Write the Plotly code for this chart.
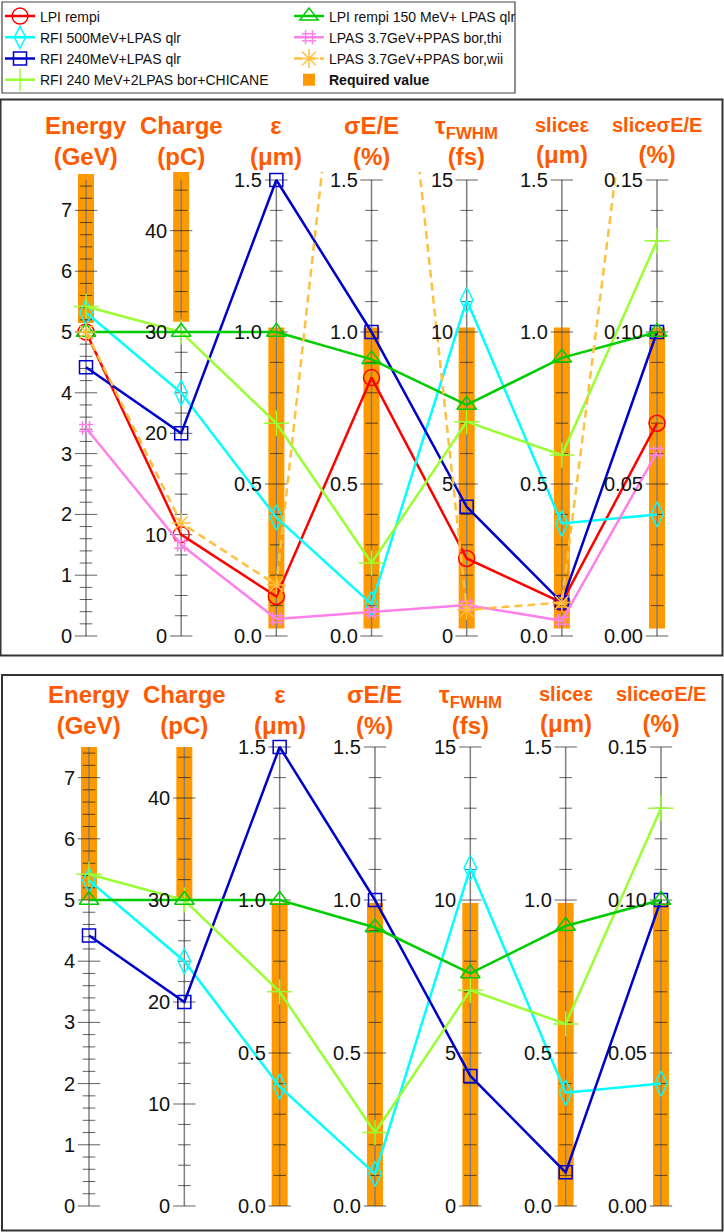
import plotly.graph_objects as go

W, H = 724, 1232

# ---------------- data ----------------
axis_titles = [
    "<b>Energy<br>(GeV)</b>",
    "<b>Charge<br>(pC)</b>",
    "<b>ε<br>(μm)</b>",
    "<b>σE/E<br>(%)</b>",
    "<b>τ<sub>FWHM</sub><br>(fs)</b>",
    "<b><span style='font-size:20px'>sliceε</span><br>(μm)</b>",
    "<b><span style='font-size:20px'>sliceσE/E</span><br>(%)</b>",
]
axis_max = [7.5, 45, 1.5, 1.5, 15, 1.5, 0.15]
minor_step = [0.2, 2, 0.1, 0.1, 1, 0.1, 0.01]
major_step = [1, 10, 0.5, 0.5, 5, 0.5, 0.05]
tick_labels = [
    ["0", "1", "2", "3", "4", "5", "6", "7"],
    ["0", "10", "20", "30", "40"],
    ["0.0", "0.5", "1.0", "1.5"],
    ["0.0", "0.5", "1.0", "1.5"],
    ["0", "5", "10", "15"],
    ["0.0", "0.5", "1.0", "1.5"],
    ["0.00", "0.05", "0.10", "0.15"],
]

lpi_rempi = [5.0, 10.0, 0.13, 0.85, 2.55, 0.11, 0.070]
rfi500_qlr = [5.32, 24.0, 0.39, 0.105, 11.05, 0.37, 0.040]
rfi240_qlr = [4.42, 20.0, 1.5, 1.0, 4.25, 0.11, 0.100]
rfi240_chicane = [5.42, 30.0, 0.70, 0.24, 7.05, 0.595, 0.130]
lpi150_qlr = [5.0, 30.0, 1.0, 0.91, 7.6, 0.915, 0.100]
lpas_thi = [3.42, 9.0, 0.056, 0.078, 1.02, 0.05, 0.0605]
lpas_wii = [5.0, 11.15, 0.168, 3.0, 0.86, 0.11, 0.26]

req_lo_top = [5.15, 31.0, 0.025, 0.025, 0.25, 0.025, 0.0025]
req_hi_top = [7.6, 46.0, 1.015, 1.015, 10.15, 1.015, 0.1015]
req_lo_bot = [5.0, 30.0, 0.0, 0.0, 0.0, 0.0, 0.0]
req_hi_bot = [7.5, 45.0, 0.99, 0.99, 9.9, 0.99, 0.099]

series = [
    # name, values, color, symbol, size, dash, legendrank, in bottom panel
    ("LPI rempi", lpi_rempi, "#FF0000", "circle-open", 16, "solid", 1, False),
    ("RFI 500MeV+LPAS qlr", rfi500_qlr, "#00FFFF", "diamond-tall-open", 18, "solid", 3, True),
    ("RFI 240MeV+LPAS qlr", rfi240_qlr, "#0000CC", "square-open", 13, "solid", 5, True),
    ("RFI 240 MeV+2LPAS bor+CHICANE", rfi240_chicane, "#99FF33", "cross-thin-open", 18, "solid", 7, True),
    ("LPI rempi 150 MeV+ LPAS qlr", lpi150_qlr, "#00CC00", "triangle-up-open", 17, "solid", 2, True),
    ("LPAS 3.7GeV+PPAS bor,thi", lpas_thi, "#FF80E8", "hash-open", 14, "solid", 4, False),
    ("LPAS 3.7GeV+PPAS bor,wii", lpas_wii, "#FFC040", "asterisk-open", 16, "8px,5px", 6, False),
]

FONT = "Liberation Sans, Arial, sans-serif"
idx = list(range(len(axis_max)))

# panel geometry (pixels)
panels = [
    dict(xa="x", ya="y", x0px=86, dxpx=95.17, zero=636, full=456, dom=(172, 650),
         lo=req_lo_top, hi=req_hi_top, title_y=141.5, legend=True, only_bottom=False),
    dict(xa="x2", ya="y2", x0px=89, dxpx=95.33, zero=1206, full=459, dom=(742, 1225),
         lo=req_lo_bot, hi=req_hi_bot, title_y=710, legend=False, only_bottom=True),
]

fig = go.Figure()
annotations = []

for p in panels:
    xa, ya = p["xa"], p["ya"]
    # required value bars
    fig.add_trace(go.Bar(
        x=idx, base=[l / m for l, m in zip(p["lo"], axis_max)],
        y=[(h - l) / m for l, h, m in zip(p["lo"], p["hi"], axis_max)],
        width=16 / p["dxpx"], marker=dict(color="#FF9900", line=dict(width=0)),
        name="<b>Required value</b>", showlegend=p["legend"], legendrank=8,
        xaxis=xa, yaxis=ya, hoverinfo="skip"))
    # axis lines
    for i in idx:
        fig.add_trace(go.Scatter(x=[i, i], y=[0, 1], mode="lines",
                                 line=dict(color="#808080", width=1.5),
                                 showlegend=False, hoverinfo="skip", xaxis=xa, yaxis=ya))
    # ticks
    for i in idx:
        m = axis_max[i]
        n = int(m / minor_step[i] + 1e-6)
        tv = [j * minor_step[i] for j in range(n + 1)]
        major = [abs(t / major_step[i] - round(t / major_step[i])) < 1e-6 for t in tv]
        fig.add_trace(go.Scatter(
            x=[i] * len(tv), y=[t / m for t in tv], mode="markers",
            marker=dict(symbol="line-ew", size=[16 if mj else 9 for mj in major],
                        line=dict(color="#202020", width=1)),
            showlegend=False, hoverinfo="skip", cliponaxis=False, xaxis=xa, yaxis=ya))
        for lab in tick_labels[i]:
            annotations.append(dict(
                x=i, y=float(lab) / m, xref=xa, yref=ya, text=lab, showarrow=False,
                xanchor="right", yanchor="middle", xshift=-12,
                font=dict(family=FONT, size=20, color="#111111")))
        annotations.append(dict(
            x=i, y=1 - p["title_y"] / H, xref=xa, yref="paper", text=axis_titles[i],
            showarrow=False, xanchor="center", yanchor="middle",
            font=dict(family=FONT, size=24, color="#FF5A00")))
    # data series
    for name, vals, col, sym, sz, dash, rank, in_bot in series:
        if p["only_bottom"] and not in_bot:
            continue
        fig.add_trace(go.Scatter(
            x=idx, y=[v / m for v, m in zip(vals, axis_max)], mode="lines+markers",
            name=name, legendrank=rank, showlegend=p["legend"],
            line=dict(color=col, width=2.5, dash=dash),
            marker=dict(symbol=sym, size=sz, color=col, line=dict(color=col, width=1.5)),
            cliponaxis=False, xaxis=xa, yaxis=ya))

def yfrac(px):
    return 1 - px / H

shapes = [
    dict(type="rect", xref="paper", yref="paper", x0=2 / W, x1=515 / W,
         y0=yfrac(93), y1=yfrac(2), line=dict(color="#444444", width=1.2)),
    dict(type="rect", xref="paper", yref="paper", x0=0.5 / W, x1=722.5 / W,
         y0=yfrac(655.5), y1=yfrac(99.5), line=dict(color="#333333", width=2)),
    dict(type="rect", xref="paper", yref="paper", x0=2 / W, x1=722.5 / W,
         y0=yfrac(1230.5), y1=yfrac(675), line=dict(color="#333333", width=2)),
]

tp, bp = panels
fig.update_layout(
    width=W, height=H, margin=dict(l=0, r=0, t=0, b=0),
    paper_bgcolor="white", plot_bgcolor="rgba(0,0,0,0)",
    barmode="overlay", showlegend=True,
    xaxis=dict(domain=[0, 1], range=[-tp["x0px"] / tp["dxpx"], (W - tp["x0px"]) / tp["dxpx"]],
               visible=False, anchor="y"),
    yaxis=dict(domain=[yfrac(tp["dom"][1]), yfrac(tp["dom"][0])],
               range=[(tp["zero"] - tp["dom"][1]) / tp["full"], (tp["zero"] - tp["dom"][0]) / tp["full"]],
               visible=False, anchor="x"),
    xaxis2=dict(domain=[0, 1], range=[-bp["x0px"] / bp["dxpx"], (W - bp["x0px"]) / bp["dxpx"]],
                visible=False, anchor="y2"),
    yaxis2=dict(domain=[yfrac(bp["dom"][1]), yfrac(bp["dom"][0])],
                range=[(bp["zero"] - bp["dom"][1]) / bp["full"], (bp["zero"] - bp["dom"][0]) / bp["full"]],
                visible=False, anchor="x2"),
    legend=dict(orientation="h", x=0, y=1 - 0.5 / H, xanchor="left", yanchor="top",
                entrywidth=244, entrywidthmode="pixels", bgcolor="rgba(0,0,0,0)",
                borderwidth=0, font=dict(family=FONT, size=14, color="#111111"),
                traceorder="normal"),
    annotations=annotations, shapes=shapes,
)

fig.write_html("out.html", config={"displayModeBar": False},
               post_script="document.body.style.margin='0';document.body.style.padding='0';")
